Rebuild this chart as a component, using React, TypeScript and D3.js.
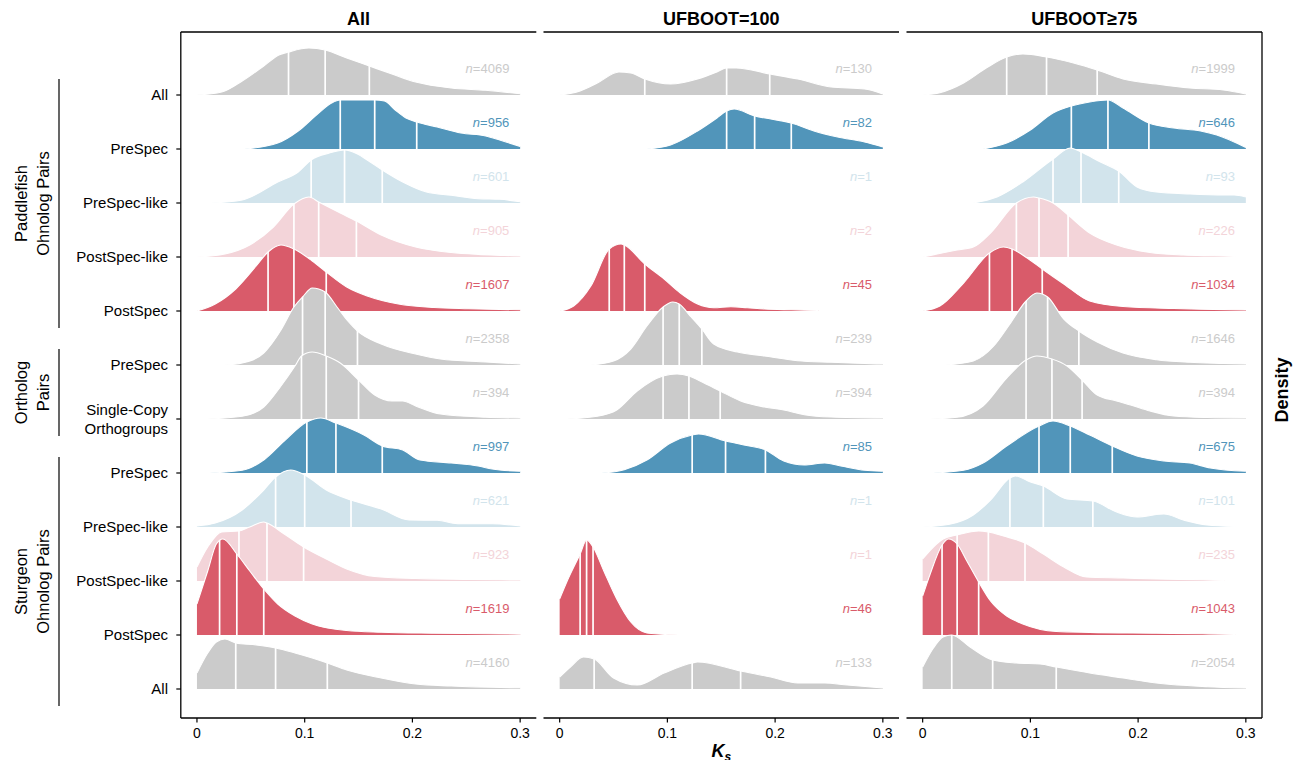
import React from 'react';
import * as d3 from 'd3';

// facets and rows
const facets = ["All", "UFBOOT=100", "UFBOOT≥75"];
const rowKeys = ["pf_all", "pf_pre", "pf_prelike", "pf_postlike", "pf_post", "or_pre", "or_sco",
  "st_pre", "st_prelike", "st_postlike", "st_post", "st_all"];
const rowLabels = ["All", "PreSpec", "PreSpec-like", "PostSpec-like", "PostSpec", "PreSpec",
  "Single-Copy\nOrthogroups", "PreSpec", "PreSpec-like", "PostSpec-like", "PostSpec", "All"];
const rowGroup = ["all", "pre", "prelike", "postlike", "post", "all", "all", "pre", "prelike", "postlike", "post", "all"];
const groupColors = { all: "#cbcbcb", pre: "#5195ba", prelike: "#d2e4ec", postlike: "#f3d4d9", post: "#d95b6a" };

const brackets = [
  { lines: ["Paddlefish", "Ohnolog Pairs"], from: "pf_all", to: "pf_post" },
  { lines: ["Ortholog", "Pairs"], from: "or_pre", to: "or_sco" },
  { lines: ["Sturgeon", "Ohnolog Pairs"], from: "st_pre", to: "st_all" },
];

// sample sizes per facet
const nAll = [4069, 956, 601, 905, 1607, 2358, 394, 997, 621, 923, 1619, 4160];
const nUf100 = [130, 82, 1, 2, 45, 239, 394, 85, 1, 1, 46, 133];
const nUf75 = [1999, 646, 93, 226, 1034, 1646, 394, 675, 101, 235, 1043, 2054];

// density curves: [Ks, relative density]
const densAll = [
  [[0, 0], [0.023, 3], [0.042, 14], [0.062, 29], [0.076, 40], [0.085, 43], [0.104, 47], [0.119, 45], [0.139, 37], [0.16, 29], [0.181, 21], [0.203, 13], [0.236, 7], [0.268, 4.7], [0.3, 1.2]],
  [[0.044, 0], [0.075, 6], [0.094, 18], [0.113, 36], [0.125, 46], [0.133, 49], [0.149, 49], [0.165, 49], [0.174, 48], [0.184, 39], [0.194, 31], [0.204, 27], [0.223, 22], [0.245, 16], [0.268, 13], [0.281, 9], [0.3, 2.5]],
  [[0.013, 0], [0.042, 3], [0.075, 21], [0.094, 31], [0.106, 43], [0.123, 50], [0.137, 53], [0.149, 49], [0.158, 43], [0.172, 33], [0.191, 21], [0.213, 11], [0.236, 7.7], [0.261, 4.3], [0.281, 3.7], [0.3, 1.2]],
  [[0, 0], [0.026, 3], [0.049, 12], [0.071, 30], [0.09, 53], [0.104, 60], [0.113, 55], [0.133, 44], [0.148, 36], [0.171, 22], [0.203, 10], [0.236, 4.5], [0.261, 2.6], [0.285, 1.6], [0.3, 1]],
  [[0, 0], [0.017, 7], [0.036, 22], [0.055, 45], [0.066, 59], [0.078, 66], [0.09, 62], [0.107, 50], [0.12, 39], [0.139, 24], [0.158, 15], [0.187, 7], [0.22, 3.5], [0.252, 2.3], [0.3, 1.2]],
  [[0.026, 0], [0.042, 2], [0.062, 12], [0.078, 35], [0.09, 58], [0.098, 68], [0.107, 77], [0.119, 73], [0.13, 58], [0.14, 44], [0.149, 34], [0.171, 21], [0.203, 11], [0.226, 6], [0.268, 3], [0.3, 1]],
  [[0.01, 0], [0.042, 2.7], [0.062, 12], [0.078, 33], [0.091, 53], [0.097, 63], [0.107, 67], [0.12, 63], [0.133, 56], [0.15, 39], [0.165, 24], [0.181, 18], [0.191, 18], [0.203, 13], [0.226, 5], [0.268, 1.8], [0.3, 1]],
  [[0.012, 0], [0.042, 2.7], [0.062, 13], [0.081, 32], [0.102, 51], [0.115, 55], [0.129, 50], [0.155, 38], [0.172, 27], [0.191, 23], [0.207, 13], [0.236, 10], [0.261, 7], [0.274, 4], [0.3, 1.7]],
  [[0, 1], [0.017, 4], [0.042, 17], [0.062, 37], [0.073, 50], [0.087, 57], [0.1, 52], [0.12, 37], [0.143, 27], [0.171, 18], [0.197, 7], [0.223, 6.7], [0.242, 3.3], [0.274, 3.3], [0.3, 1]],
  [[0, 14], [0.01, 34], [0.023, 49], [0.039, 50], [0.049, 54], [0.062, 59], [0.065, 58], [0.081, 47], [0.099, 34], [0.12, 22], [0.139, 12], [0.165, 4.5], [0.203, 2.5], [0.25, 1.6], [0.3, 1]],
  [[0, 31], [0.01, 64], [0.018, 91], [0.024, 96], [0.037, 81], [0.049, 64], [0.062, 46], [0.075, 31], [0.091, 19], [0.107, 11], [0.139, 4.5], [0.171, 2.8], [0.22, 1.8], [0.27, 1.2], [0.3, 0.8]],
  [[0, 16], [0.01, 36], [0.018, 47], [0.026, 50], [0.036, 46], [0.055, 44], [0.073, 41], [0.091, 36], [0.107, 31], [0.121, 26], [0.139, 19], [0.171, 11], [0.203, 5], [0.236, 3], [0.3, 1.2]],
];
const densUf100 = [
  [[0, 0], [0.019, 4], [0.035, 12], [0.055, 23], [0.066, 22], [0.079, 16], [0.103, 11], [0.128, 16], [0.146, 23], [0.155, 27], [0.164, 27], [0.195, 21], [0.221, 16], [0.252, 8], [0.283, 6], [0.3, 1]],
  [[0.081, 0], [0.103, 4], [0.128, 18], [0.146, 31], [0.155, 38], [0.162, 40], [0.181, 33], [0.196, 30], [0.215, 26], [0.236, 18], [0.258, 12], [0.283, 7], [0.3, 2]],
  null,
  null,
  [[0, 0], [0.013, 5], [0.029, 25], [0.046, 62], [0.057, 67], [0.06, 66], [0.079, 47], [0.097, 32], [0.112, 18], [0.128, 7], [0.143, 3.3], [0.159, 4.3], [0.174, 3.3], [0.19, 2], [0.215, 1.2], [0.24, 0.6]],
  [[0.029, 0], [0.05, 4], [0.066, 16], [0.081, 39], [0.096, 58], [0.105, 63], [0.111, 61], [0.122, 48], [0.132, 36], [0.143, 21], [0.165, 13], [0.19, 9], [0.221, 4.3], [0.252, 2.7], [0.283, 1.5], [0.3, 1]],
  [[0.007, 0], [0.035, 2.7], [0.053, 9], [0.072, 28], [0.096, 43], [0.109, 45], [0.12, 43], [0.134, 36], [0.149, 28], [0.168, 18], [0.19, 12], [0.208, 9], [0.227, 4.3], [0.252, 2], [0.3, 1]],
  [[0.039, 0], [0.06, 3.3], [0.081, 13], [0.103, 30], [0.123, 38], [0.129, 39], [0.154, 32], [0.171, 28], [0.191, 23], [0.208, 12], [0.227, 8], [0.246, 10], [0.261, 7], [0.283, 2.7], [0.3, 1.7]],
  null,
  null,
  [[0, 36], [0.007, 54], [0.019, 81], [0.025, 95], [0.031, 88], [0.041, 64], [0.053, 36], [0.066, 13], [0.081, 2], [0.095, 0.8], [0.11, 0]],
  [[0, 12], [0.01, 22], [0.022, 32], [0.032, 30], [0.05, 11], [0.072, 4], [0.097, 16], [0.123, 26], [0.128, 27], [0.168, 18], [0.196, 12], [0.221, 6], [0.246, 6], [0.267, 4], [0.3, 1]],
];
const densUf75 = [
  [[0, 0], [0.016, 2.3], [0.038, 12], [0.059, 27], [0.078, 38], [0.093, 41], [0.115, 38], [0.14, 32], [0.162, 25], [0.186, 16], [0.217, 11], [0.248, 7], [0.279, 5], [0.3, 1]],
  [[0.056, 0], [0.078, 6], [0.1, 19], [0.121, 36], [0.138, 43], [0.155, 47], [0.172, 49], [0.186, 41], [0.21, 26], [0.233, 21], [0.258, 18], [0.273, 14], [0.3, 1.5]],
  [[0.047, 0], [0.069, 6], [0.093, 21], [0.121, 44], [0.137, 55], [0.147, 51], [0.165, 41], [0.182, 32], [0.199, 16], [0.217, 11], [0.248, 9], [0.279, 8], [0.289, 8], [0.3, 6]],
  [[0, 0], [0.032, 7], [0.047, 10], [0.063, 24], [0.087, 54], [0.103, 60], [0.108, 59], [0.121, 54], [0.135, 42], [0.155, 24], [0.18, 12], [0.211, 4.5], [0.242, 2], [0.27, 1.2], [0.29, 0.6]],
  [[0, 0], [0.016, 5], [0.038, 28], [0.062, 58], [0.075, 64], [0.083, 62], [0.097, 53], [0.111, 42], [0.131, 27], [0.155, 10], [0.186, 4.5], [0.233, 2.5], [0.27, 1.6], [0.3, 1]],
  [[0.021, 0], [0.047, 4], [0.066, 19], [0.081, 41], [0.096, 64], [0.106, 72], [0.116, 68], [0.131, 46], [0.145, 34], [0.162, 23], [0.186, 12], [0.217, 5.3], [0.248, 2.7], [0.279, 1.6], [0.3, 1]],
  [[0.007, 0], [0.032, 1.7], [0.056, 13], [0.078, 41], [0.096, 59], [0.106, 63], [0.12, 60], [0.134, 53], [0.148, 39], [0.162, 24], [0.18, 18], [0.193, 14], [0.211, 8], [0.233, 3], [0.264, 1.5], [0.3, 1]],
  [[0.01, 0], [0.038, 2.7], [0.056, 10], [0.078, 27], [0.108, 47], [0.121, 52], [0.137, 47], [0.155, 38], [0.176, 27], [0.199, 17], [0.224, 12], [0.248, 10], [0.267, 5], [0.3, 1.7]],
  [[0, 0], [0.025, 2.7], [0.047, 12], [0.063, 27], [0.081, 49], [0.086, 51], [0.1, 45], [0.112, 41], [0.134, 28], [0.158, 26], [0.18, 15], [0.199, 10], [0.224, 13], [0.242, 7], [0.264, 2], [0.29, 0.6]],
  [[0, 22], [0.01, 34], [0.019, 42], [0.032, 46], [0.052, 50], [0.061, 49], [0.075, 45], [0.095, 38], [0.112, 27], [0.131, 14], [0.152, 4], [0.186, 3], [0.217, 2], [0.26, 1.2], [0.28, 0.6]],
  [[0, 39], [0.007, 61], [0.018, 90], [0.024, 96], [0.032, 91], [0.041, 74], [0.052, 53], [0.063, 34], [0.078, 19], [0.093, 11], [0.124, 3.5], [0.155, 2.6], [0.217, 1.8], [0.26, 1.2], [0.29, 0.6]],
  [[0, 22], [0.01, 41], [0.019, 52], [0.027, 54], [0.044, 42], [0.065, 29], [0.087, 26], [0.109, 25], [0.124, 22], [0.155, 16], [0.186, 11], [0.217, 6], [0.264, 2.3], [0.3, 1]],
];

// quartiles (25%, 50%, 75%)
const quartAll = [[0.085, 0.119, 0.160], [0.133, 0.165, 0.204], [0.106, 0.137, 0.172], [0.090, 0.113, 0.148], [0.066, 0.090, 0.120], [0.098, 0.119, 0.149],
  [0.097, 0.120, 0.150], [0.102, 0.129, 0.172], [0.073, 0.100, 0.143], [0.039, 0.065, 0.099], [0.021, 0.037, 0.062], [0.036, 0.073, 0.121]];
const quartUf100 = [[0.079, 0.155, 0.195], [0.155, 0.181, 0.215], null, null, [0.046, 0.060, 0.079], [0.096, 0.111, 0.132],
  [0.096, 0.120, 0.149], [0.123, 0.154, 0.191], null, null, [0.019, 0.025, 0.031], [0.032, 0.123, 0.168]];
const quartUf75 = [[0.078, 0.115, 0.162], [0.138, 0.172, 0.210], [0.121, 0.147, 0.182], [0.087, 0.108, 0.135], [0.062, 0.083, 0.111], [0.096, 0.116, 0.145],
  [0.096, 0.120, 0.148], [0.108, 0.137, 0.176], [0.081, 0.112, 0.158], [0.032, 0.061, 0.095], [0.018, 0.032, 0.052], [0.027, 0.065, 0.124]];

const xTicks = [0, 0.1, 0.2, 0.3];
const xTickLabels = ["0", "0.1", "0.2", "0.3"];

const facetData = [
  { dens: densAll, quart: quartAll, n: nAll },
  { dens: densUf100, quart: quartUf100, n: nUf100 },
  { dens: densUf75, quart: quartUf75, n: nUf75 },
];

const font = "'Liberation Sans', Arial, Helvetica, sans-serif";

export default function App() {
  const width = 1298, height = 760;
  const panelW = 355.5;
  const panelLefts = [180.8, 543.5, 906.5];
  const top = 32, bottom = 718;

  const y = d3.scalePoint().domain(rowKeys).range([95, 689]);
  const h = d3.scaleLinear().domain([0, 100]).range([0, 100]);

  return (
    <svg width={width} height={height} style={{ position: 'absolute', left: 0, top: 0, background: '#fff' }} fontFamily={font}>
      {/* group brackets + labels */}
      {brackets.map((b, i) => {
        const y0 = y(b.from) - 16, y1 = y(b.to) + 17;
        const cy = (y0 + y1) / 2;
        return (
          <g key={'br' + i}>
            <line x1={59} x2={59} y1={y0} y2={y1} stroke="#000" strokeWidth={1.2} />
            {b.lines.map((t, j) => (
              <text key={j} transform={`translate(${27 + j * 22},${cy}) rotate(-90)`} textAnchor="middle" fontSize={16.5} fill="#000">{t}</text>
            ))}
          </g>
        );
      })}

      {/* y axis */}
      <line x1={panelLefts[0]} x2={panelLefts[0]} y1={top} y2={bottom} stroke="#000" strokeWidth={1.3} />
      {rowKeys.map((k, i) => {
        const lines = rowLabels[i].split("\n");
        const yy = y(k);
        return (
          <g key={'yl' + k}>
            <line x1={panelLefts[0] - 4.5} x2={panelLefts[0]} y1={yy} y2={yy} stroke="#000" strokeWidth={1.2} />
            {lines.map((t, j) => (
              <text key={j} x={168} y={yy + 5 + (j - (lines.length - 1) / 2) * 19} textAnchor="end" fontSize={15} fill="#000">{t}</text>
            ))}
          </g>
        );
      })}

      {facets.map((f, fi) => {
        const left = panelLefts[fi];
        const x = d3.scaleLinear().domain([-0.015, 0.315]).range([left, left + panelW]);
        const { dens, quart, n } = facetData[fi];
        return (
          <g key={'f' + fi}>
            <text x={left + panelW / 2} y={25} textAnchor="middle" fontSize={18} fontWeight="bold">{f}</text>
            <line x1={left} x2={left + panelW} y1={top} y2={top} stroke="#000" strokeWidth={1.3} />
            <line x1={left} x2={left + panelW} y1={bottom} y2={bottom} stroke="#000" strokeWidth={1.3} />
            {fi === facets.length - 1 && (
              <line x1={left + panelW} x2={left + panelW} y1={top} y2={bottom} stroke="#000" strokeWidth={1.3} />
            )}
            {xTicks.map((t, ti) => (
              <g key={'xt' + ti}>
                <line x1={x(t)} x2={x(t)} y1={bottom} y2={bottom + 4.5} stroke="#000" strokeWidth={1.2} />
                <text x={x(t)} y={bottom + 20} textAnchor="middle" fontSize={14}>{xTickLabels[ti]}</text>
              </g>
            ))}
            <defs>
              {rowKeys.map((k, ri) => {
                const d = dens[ri];
                if (!d) return null;
                const base = y(k);
                const area = d3.area().x(p => x(p[0])).y0(base).y1(p => base - h(p[1])).curve(d3.curveMonotoneX);
                return (
                  <clipPath key={k} id={`clip-${fi}-${ri}`}>
                    <path d={area(d)} />
                  </clipPath>
                );
              })}
            </defs>
            {rowKeys.map((k, ri) => {
              const d = dens[ri];
              if (!d) return null;
              const base = y(k);
              const col = groupColors[rowGroup[ri]];
              const area = d3.area().x(p => x(p[0])).y0(base).y1(p => base - h(p[1])).curve(d3.curveMonotoneX);
              const line = d3.line().x(p => x(p[0])).y(p => base - h(p[1])).curve(d3.curveMonotoneX);
              return (
                <g key={'r' + k}>
                  <path d={area(d)} fill={col} />
                  <g clipPath={`url(#clip-${fi}-${ri})`}>
                    {(quart[ri] || []).map((q, qi) => (
                      <line key={qi} x1={x(q)} x2={x(q)} y1={base + 1} y2={base - 130} stroke="#fff" strokeWidth={1.7} />
                    ))}
                  </g>
                  <path d={line(d)} fill="none" stroke="#fff" strokeWidth={1.1} />
                </g>
              );
            })}
            {rowKeys.map((k, ri) => (
              <text key={'n' + k} x={x(0.29)} y={y(k) - 22} textAnchor="end" fontSize={13} fill={groupColors[rowGroup[ri]]}>
                <tspan fontStyle="italic">n</tspan>={n[ri]}
              </text>
            ))}
          </g>
        );
      })}

      {/* axis titles */}
      <text x={panelLefts[1] + panelW / 2} y={757} textAnchor="middle" fontSize={18} fontWeight="bold" fontStyle="italic">
        K<tspan fontSize={12} dy={4}>s</tspan>
      </text>
      <text transform={`translate(1288,390) rotate(-90)`} textAnchor="middle" fontSize={18} fontWeight="bold">Density</text>
    </svg>
  );
}
